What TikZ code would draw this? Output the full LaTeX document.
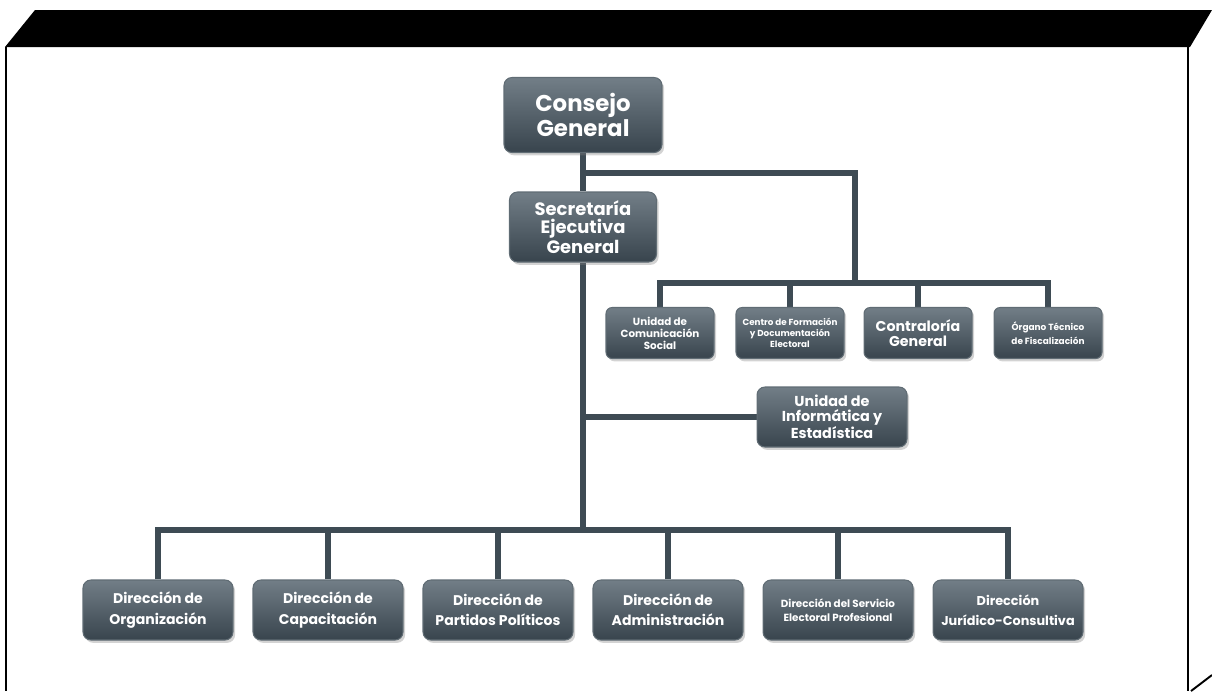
\documentclass[tikz,border=0pt]{standalone}
\usepackage{fontspec}
\newfontfamily\orgfont{Poppins}
\usepackage{xcolor}
\definecolor{boxtop}{RGB}{114,126,135}
\definecolor{boxbot}{RGB}{56,68,77}
\definecolor{boxline}{RGB}{96,108,116}
\definecolor{linkgray}{RGB}{62,75,84}
\usepackage{tikz}
\usetikzlibrary{shadows,backgrounds}
\pgfdeclarelayer{background}
\pgfsetlayers{background,main}
\tikzstyle{orgbox} = [rectangle, rounded corners=4.5pt, draw=boxline, line width=0.6pt,
    top color=boxtop, bottom color=boxbot, text=white, align=center, inner sep=1pt,
    drop shadow={shadow xshift=1.2pt, shadow yshift=-1.6pt, opacity=0.35}]
\tikzstyle{topbox} = [orgbox, minimum width=3.16cm, minimum height=1.5cm,
    font=\orgfont\bfseries\fontsize{13}{12.5}\selectfont]
\tikzstyle{secbox} = [orgbox, minimum width=2.94cm, minimum height=1.4cm,
    font=\orgfont\bfseries\fontsize{10.2}{10}\selectfont]
\tikzstyle{unitbox} = [orgbox, rounded corners=3.5pt, minimum width=2.16cm, minimum height=1.02cm,
    font=\orgfont\bfseries\fontsize{5.9}{6.9}\selectfont]
\tikzstyle{dirbox} = [orgbox, minimum width=3cm, minimum height=1.2cm,
    font=\orgfont\bfseries\fontsize{8}{11.5}\selectfont]
\tikzstyle{link} = [draw=linkgray, line width=3.4pt]
\tikzstyle{frame} = [draw=black, line width=1.1pt]

\begin{document}
\begin{tikzpicture}[x=0.02cm, y=-0.02cm]
\useasboundingbox (0,0) rectangle (1212,691);
% box outline
\fill[black] (35,10) -- (1212,10) -- (1190,47) -- (5,47) -- cycle;
\draw[frame] (6,47) -- (6,691);
\draw[frame] (1188,47) -- (1188,691);
\draw[frame] (1191,691) -- (1212,675);

\node[topbox] (cg) at (583,115) {Consejo\\General};
\node[secbox] (seg) at (583,227) {Secretaría\\Ejecutiva\\General};

\node[unitbox] (ucs) at (660,333) {Unidad de\\Comunicación\\Social};
\node[unitbox, font=\orgfont\bfseries\fontsize{5}{6.3}\selectfont] (cfd) at (790,333) {Centro de Formación\\y Documentación\\Electoral};
\node[unitbox, font=\orgfont\bfseries\fontsize{8.1}{8.5}\selectfont] (cgr) at (918,333) {Contraloría\\General};
\node[unitbox, font=\orgfont\bfseries\fontsize{5.1}{8}\selectfont] (otf) at (1048,333) {Órgano Técnico\\de Fiscalización};

\node[dirbox, font=\orgfont\bfseries\fontsize{8.2}{8.5}\selectfont] (uie) at (832,417) {Unidad de\\Informática y\\Estadística};

\node[dirbox] (dorg) at (158,610) {Dirección de\\Organización};
\node[dirbox] (dcap) at (328,610) {Dirección de\\Capacitación};
\node[dirbox] (dpp) at (498,610) {Dirección de\\Partidos Políticos};
\node[dirbox] (dadm) at (668,610) {Dirección de\\Administración};
\node[dirbox, font=\orgfont\bfseries\fontsize{5.9}{7.8}\selectfont] (dspe) at (838,610) {Dirección del Servicio\\Electoral Profesional};
\node[dirbox, font=\orgfont\bfseries\fontsize{7.3}{11.5}\selectfont] (djc) at (1008,610) {Dirección\\Jurídico-Consultiva};

\coordinate (j1) at (583,173);
\coordinate (j2) at (855,283);
\coordinate (j3) at (583,530);

\begin{pgfonlayer}{background}
\draw[link] (cg.south) -- (seg.north);
\draw[link] (j1) -| (j2);
\draw[link] (ucs.north) |- (j2) -| (otf.north);
\foreach \n in {cfd,cgr}
  \draw[link] (\n.north) -- (\n.north |- j2);
\draw[link] (seg.south) -- (j3);
\draw[link] (uie.west) -- (uie.west -| j3);
\draw[link] (dorg.north) |- (j3) -| (djc.north);
\foreach \n in {dcap,dpp,dadm,dspe}
  \draw[link] (\n.north) -- (\n.north |- j3);
\end{pgfonlayer}
\end{tikzpicture}
\end{document}
